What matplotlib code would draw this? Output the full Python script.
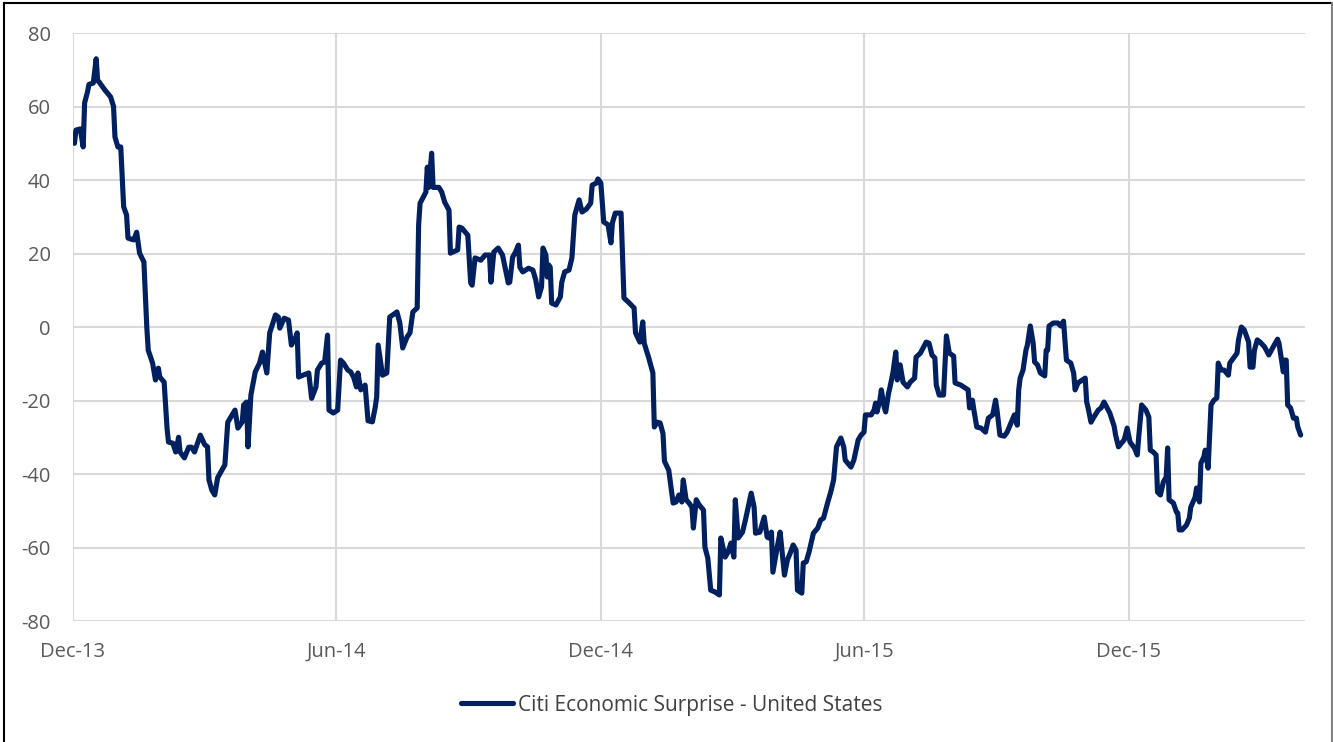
import matplotlib
matplotlib.use('AGG')

import numpy as np
import pandas as pd
import matplotlib.pyplot as plt
from matplotlib.lines import Line2D

# Days since 1 Dec 2013 and index value
days = [1, 2, 5, 7, 8, 10, 11, 14, 16, 17, 18, 22, 26, 28, 29, 31, 33, 35, 37, 38,
        42, 44, 46, 49, 51, 52, 55, 57, 59, 60, 63, 65, 66, 69, 71, 73, 74, 77, 80, 82,
        84, 88, 91, 93, 94, 96, 98, 100, 105, 107, 112, 114, 117, 118, 120, 121, 123, 126, 129, 131,
        134, 136, 140, 142, 143, 146, 149, 151, 154, 155, 156, 159, 163, 165, 168, 169, 172, 174, 176, 177,
        180, 183, 185, 187, 190, 192, 194, 196, 197, 199, 202, 204, 207, 209, 210, 211, 214, 217, 219, 224,
        226, 228, 231, 233, 235, 238, 239, 240, 244, 245, 246, 248, 249, 253, 255, 257, 260, 261, 266, 267,
        269, 273, 275, 276, 278, 282, 285, 288, 289, 291, 294, 297, 301, 302, 304, 306, 308, 309, 311, 315,
        318, 320, 322, 324, 325, 327, 328, 329, 330, 331, 334, 337, 338, 340, 343, 345, 347, 350, 352, 355,
        358, 359, 362, 363, 365, 367, 370, 372, 373, 375, 379, 381, 384, 388, 389, 392, 394, 395, 398, 401,
        402, 404, 406, 408, 409, 412, 415, 417, 419, 421, 422, 424, 426, 428, 429, 431, 433, 436, 437, 439,
        441, 444, 447, 448, 451, 453, 455, 457, 458, 460, 463, 465, 469, 471, 472, 475, 478, 480, 481, 483,
        484, 487, 489, 492, 494, 496, 498, 500, 501, 504, 505, 507, 509, 512, 515, 517, 519, 522, 524, 526,
        528, 531, 533, 534, 538, 540, 543, 545, 547, 548, 552, 554, 555, 556, 558, 559, 561, 562, 564, 565,
        567, 569, 570, 572, 574, 577, 579, 582, 583, 586, 590, 592, 594, 596, 597, 599, 602, 604, 606, 609,
        610, 614, 617, 619, 620, 622, 623, 625, 628, 631, 633, 636, 638, 639, 641, 644, 646, 648, 651, 653,
        654, 655, 657, 659, 660, 662, 664, 665, 667, 669, 672, 673, 674, 675, 678, 681, 683, 685, 687, 690,
        692, 693, 695, 700, 701, 702, 704, 706, 709, 711, 713, 717, 720, 721, 723, 725, 727, 729, 731, 734,
        736, 737, 739, 742, 744, 745, 747, 749, 750, 752, 754, 756, 757, 758, 761, 763, 764, 765, 767, 770,
        772, 773, 776, 777, 779, 780, 782, 783, 785, 787, 789, 791, 792, 794, 796, 799, 800, 803, 805, 806,
        808, 810, 812, 813, 814, 816, 817, 819, 821, 824, 827, 830, 833, 834, 837, 838, 839, 840, 842, 844,
        846, 847, 849]
values = [50, 53.6, 53.9, 49, 61, 64, 66, 66.4, 73, 67, 66.7, 64.5, 62.6, 60, 51.7, 49, 49, 32.7, 30.5, 24.2,
          23.7, 25.8, 20.1, 17.7, 0, -6.3, -9.8, -14.4, -11.2, -13.6, -15, -27.5, -31.3, -31.6, -34, -30, -34, -35.6, -32.7, -32.7,
          -34, -29.4, -32, -32.6, -41.6, -44.4, -45.7, -41, -37.5, -25.9, -22.6, -27.5, -25.8, -21.2, -20.4, -32.6, -18.5, -12.2, -9.8, -6.8,
          -12.5, -1.6, 3.3, 2.7, -0.3, 2.4, 1.9, -4.9, -2.7, -1.6, -13.6, -13.1, -12.5, -19.4, -16.3, -11.7, -9.8, -9.5, -2.2, -22.6,
          -23.4, -22.6, -9, -9.8, -11.7, -12.2, -13.6, -16.3, -12.5, -17.1, -15.8, -25.5, -25.8, -21.8, -19, -4.9, -13.1, -12.5, 2.7, 4.1,
          1.1, -5.7, -2.7, -1.6, 4.1, 5.2, 27.8, 33.7, 36.7, 43.5, 38, 47.3, 38, 38, 36.7, 34, 31.8, 20.1, 21, 27.2,
          26.9, 25, 12, 11.4, 18.8, 18.2, 19.6, 19.6, 12.2, 20.4, 21.5, 19.6, 12, 12.2, 19, 20.4, 22.3, 16.3, 15, 16,
          15.5, 12.8, 8.2, 10.9, 21.5, 19.6, 13.6, 16.9, 16.3, 6.5, 6, 8.2, 12.2, 15, 15.5, 18.8, 30.5, 34.6, 31.3, 32.1,
          33.7, 38.6, 39.2, 40.3, 39.2, 28.6, 27.8, 22.9, 28.3, 31, 31, 7.9, 6.8, 5.2, -1.6, -4.1, 1.4, -4.4, -8.2, -12.5,
          -27.2, -25.9, -26.1, -29, -36.5, -39, -47.9, -47.6, -45.7, -47.6, -41.6, -47, -47.9, -49, -54.7, -47, -48.4, -49.8, -59.9, -62.9,
          -71.6, -72.1, -72.9, -57.4, -62.6, -61.2, -58.8, -62.6, -47, -57.4, -55.8, -52.5, -45.2, -49, -56.1, -55.8, -51.7, -57.1, -57.4, -55.8,
          -66.7, -59.9, -55.8, -67.5, -63.4, -61.5, -59.3, -60.7, -71.6, -72.4, -64.2, -63.9, -61.2, -56.1, -54.7, -52.5, -52, -47.6, -44.9, -41.6,
          -32.6, -30.2, -32.6, -36.2, -38.1, -36.2, -30.7, -29.4, -28.6, -23.9, -23.9, -22.6, -20.7, -23.1, -19.9, -17.1, -21.8, -23.1, -18, -16.3,
          -12.5, -6.8, -14.4, -10.3, -15, -16.3, -15, -13.9, -8.2, -7.1, -4.1, -4.4, -7.6, -8.4, -15.8, -18.5, -18.5, -2.4, -7.1, -7.9,
          -15.2, -15.8, -16.6, -17.1, -22, -19.9, -22.6, -27.2, -27.5, -28.6, -24.8, -23.9, -19.9, -22.6, -29.4, -29.7, -28.6, -26.7, -23.9, -26.7,
          -17.1, -13.9, -11.7, -6.3, -4.9, 0.3, -4.4, -9.5, -10.3, -12.5, -13.3, -6.3, -6.3, 0.3, 1.1, 1.1, 0.3, 1.6, -9, -9.8,
          -12.5, -17.1, -15.2, -13.9, -20.4, -22, -25.9, -24.5, -22.6, -22, -20.4, -23.4, -27, -29.4, -32.6, -31.6, -30.7, -27.5, -31.3, -32.9,
          -34.8, -29.9, -21.2, -22.6, -24.5, -33.5, -34, -34.8, -44.9, -45.7, -42.2, -40.8, -32.9, -47, -47.9, -50.3, -50.6, -55.2, -55.2, -53.9,
          -52, -49, -46.3, -43.8, -47.6, -37, -35.4, -33.5, -38.4, -21.2, -19.9, -19.3, -9.8, -11.7, -11.7, -13.1, -9.8, -8.2, -7.1, -3.5,
          0, -0.8, -3, -4.1, -10.9, -10.9, -6.3, -3.5, -4.1, -5.4, -7.6, -5.4, -3.3, -4.4, -12.2, -9, -9, -21.2, -22, -24.8,
          -24.8, -27.2, -29.4]

start = pd.Timestamp('2013-12-01')
dates = start + pd.to_timedelta(days, unit='D')
tick_dates = pd.to_datetime(['2013-12-01', '2014-06-01', '2014-12-01', '2015-06-01', '2015-12-01'])
tick_labels = ['Dec-13', 'Jun-14', 'Dec-14', 'Jun-15', 'Dec-15']
yticks = [-80, -60, -40, -20, 0, 20, 40, 60, 80]

plt.rcParams['font.family'] = ['Open Sans', 'DejaVu Sans']
plt.rcParams['axes.unicode_minus'] = False

fig = plt.figure(figsize=(13.33, 7.42), dpi=100)
ax = fig.add_axes([0.0548, 0.163, 0.9242, 0.7925])

ax.plot(dates, values, color='#002060', linewidth=3.7, solid_joinstyle='round',
        solid_capstyle='round', label='Citi Economic Surprise - United States')

ax.set_xlim(start, start + pd.Timedelta(days=852))
ax.set_ylim(-80, 80)
ax.set_xticks(tick_dates)
ax.set_xticklabels(tick_labels)
ax.set_yticks(yticks)
ax.grid(True, color='#d9d9d9', linewidth=1.5)
ax.set_axisbelow(True)
for s in ax.spines.values():
    s.set_visible(False)
ax.tick_params(length=0, labelsize=14.5, colors='#595959')
ax.tick_params(axis='y', pad=16)
ax.tick_params(axis='x', pad=15)

leg = ax.legend(loc='center', bbox_to_anchor=(0.486, -0.143), frameon=False,
                fontsize=15, handlelength=2.5, handletextpad=0.25)
for t in leg.get_texts():
    t.set_color('#404040')

# outer frame (left, top, right)
fig.add_artist(Line2D([0.003, 0.003], [0, 0.996], color='black', linewidth=1.5, transform=fig.transFigure))
fig.add_artist(Line2D([0.003, 0.999], [0.996, 0.996], color='black', linewidth=1.5, transform=fig.transFigure))
fig.add_artist(Line2D([0.999, 0.999], [0, 0.996], color='#808080', linewidth=1.5, transform=fig.transFigure))

plt.savefig('out.png', dpi=100)
